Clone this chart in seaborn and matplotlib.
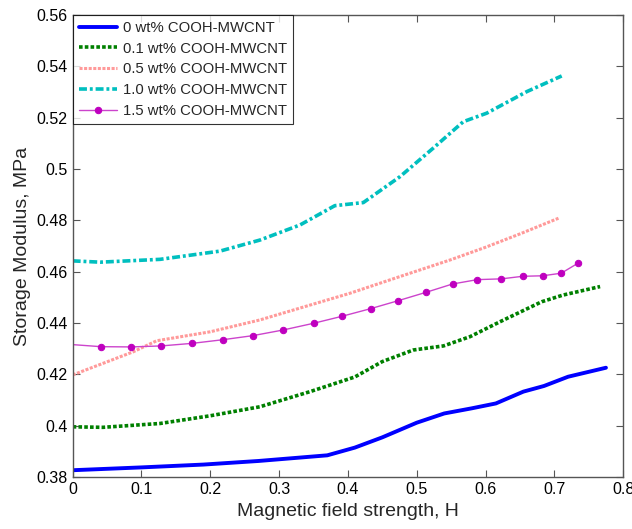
import matplotlib
matplotlib.use("Agg")
import matplotlib.pyplot as plt
import seaborn as sns
import pandas as pd

# ---- data ----
x0 = [0, 0.1, 0.19, 0.27, 0.37, 0.41, 0.45, 0.5, 0.54, 0.58, 0.615, 0.655, 0.685, 0.72, 0.775]
y0 = [0.3827, 0.3838, 0.3849, 0.3863, 0.3885, 0.3915, 0.3955, 0.4012, 0.4048, 0.4068, 0.4087, 0.4133, 0.4155, 0.4191, 0.4226]

x01 = [0, 0.044, 0.127, 0.2, 0.272, 0.345, 0.41, 0.45, 0.495, 0.539, 0.5775, 0.621, 0.6817, 0.7127, 0.7665]
y01 = [0.3996, 0.3994, 0.4009, 0.4039, 0.4074, 0.4133, 0.4190, 0.4250, 0.4295, 0.4311, 0.4347, 0.4405, 0.4483, 0.4509, 0.4542]

x05 = [0, 0.044, 0.088, 0.122, 0.2, 0.272, 0.34, 0.403, 0.47, 0.549, 0.6, 0.65, 0.706]
y05 = [0.4198, 0.4243, 0.4288, 0.4331, 0.4366, 0.4412, 0.4466, 0.4516, 0.4576, 0.4646, 0.4695, 0.4747, 0.4808]

x10 = [0, 0.04, 0.127, 0.214, 0.272, 0.3305, 0.381, 0.4224, 0.4757, 0.524, 0.5677, 0.6017, 0.66, 0.7107]
y10 = [0.4642, 0.4637, 0.4648, 0.4680, 0.4723, 0.4782, 0.4857, 0.4869, 0.4970, 0.5081, 0.5184, 0.5217, 0.5301, 0.5362]

x15 = [0, 0.041, 0.085, 0.129, 0.174, 0.218, 0.262, 0.306, 0.35, 0.391, 0.433, 0.473, 0.514, 0.552, 0.588, 0.623, 0.654, 0.683, 0.71, 0.735]
y15 = [0.4316, 0.4308, 0.4307, 0.4311, 0.4321, 0.4335, 0.4351, 0.4373, 0.4399, 0.4426, 0.4456, 0.4487, 0.4520, 0.4552, 0.4569, 0.4572, 0.4582, 0.4584, 0.4594, 0.4634]

labels = ["0 wt% COOH-MWCNT", "0.1 wt% COOH-MWCNT", "0.5 wt% COOH-MWCNT",
          "1.0 wt% COOH-MWCNT", "1.5 wt% COOH-MWCNT"]

xticks = [0, 0.1, 0.2, 0.3, 0.4, 0.5, 0.6, 0.7, 0.8]
xticklabels = ["0", "0.1", "0.2", "0.3", "0.4", "0.5", "0.6", "0.7", "0.8"]
yticks = [0.38, 0.40, 0.42, 0.44, 0.46, 0.48, 0.50, 0.52, 0.54, 0.56]
yticklabels = ["0.38", "0.4", "0.42", "0.44", "0.46", "0.48", "0.5", "0.52", "0.54", "0.56"]

# ---- style ----
sns.set_style("ticks")
plt.rcParams["font.family"] = ["Liberation Sans", "DejaVu Sans"]
plt.rcParams["xtick.direction"] = "in"
plt.rcParams["ytick.direction"] = "in"

fig = plt.figure(figsize=(6.32, 5.29), dpi=100)
ax = fig.add_axes([0.115, 0.098, 0.871, 0.874])

def draw(x, y, label, **kw):
    df = pd.DataFrame({"H": x, "G": y})
    sns.lineplot(data=df, x="H", y="G", ax=ax, sort=False, estimator=None,
                 label=label, **kw)

draw(x0, y0, labels[0], color="#0000ff", linewidth=2.8, linestyle="-")
draw(x01, y01, labels[1], color="#008000", linewidth=2.6, linestyle=(0, (1, 0.6)))
draw(x05, y05, labels[2], color="#ff9a9a", linewidth=2.2, linestyle=(0, (1, 0.5)))
draw(x10, y10, labels[3], color="#00bfbf", linewidth=2.6, linestyle=(0, (2.2, 0.8, 0.8, 0.8)))
draw(x15, y15, labels[4], color="#cc44cc", linewidth=1.0, linestyle="-",
     marker="o", markersize=4.6, markerfacecolor="#bf00bf", markeredgecolor="#bf00bf",
     markevery=slice(1, None))

ax.set_xlim(0, 0.8)
ax.set_ylim(0.38, 0.56)
ax.set_xticks(xticks)
ax.set_xticklabels(xticklabels)
ax.set_yticks(yticks)
ax.set_yticklabels(yticklabels)
ax.tick_params(labelsize=11.5, top=True, right=True, length=5, width=0.8, colors="#555555", labelcolor="black")
for s in ax.spines.values():
    s.set_color("#555555")
    s.set_linewidth(1.0)

ax.set_xlabel("Magnetic field strength, H", fontsize=14)
ax.set_ylabel("Storage Modulus, MPa", fontsize=14)

leg = ax.legend(loc="upper left", borderaxespad=0, fontsize=10.7, frameon=True,
                fancybox=False, edgecolor="black", numpoints=1, handlelength=2.6,
                labelspacing=0.46, borderpad=0.4, handletextpad=0.4)
leg.get_frame().set_linewidth(0.8)

fig.savefig("out.png", dpi=100)
